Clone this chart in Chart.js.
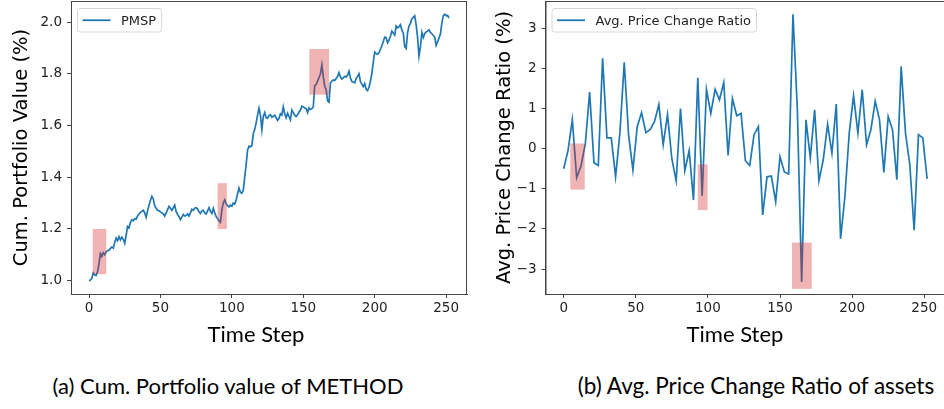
<!DOCTYPE html>
<html lang="en">
<head>
    <meta charset="UTF-8">
    <title>Cum. Portfolio value / Avg. Price Change Ratio</title>
    <script src="https://cdn.jsdelivr.net/npm/chart.js"></script>
    <style>
        body { margin: 0; background: #fff; overflow: hidden; width: 944px; height: 409px; position: relative; }
        canvas { position: absolute; top: 0; }
        .lbl { position: absolute; font-family: Lato, sans-serif; color: #000; white-space: nowrap; transform: translate(-50%, -50%); }
    </style>
</head>
<body>
    <canvas id="chartA" width="472" height="350" style="left:0"></canvas>
    <canvas id="chartB" width="480" height="350" style="left:472px"></canvas>

    <div class="lbl" style="left:256px; top:333px; font-size:22px">Time Step</div>
    <div class="lbl" style="left:735px; top:333px; font-size:22px">Time Step</div>
    <div class="lbl" style="left:228px; top:385px; font-size:22px">(a) Cum. Portfolio value of METHOD</div>
    <div class="lbl" style="left:756px; top:385px; font-size:22.5px">(b) Avg. Price Change Ratio of assets</div>

    <script>
        // cumulative portfolio value, one value per time step (0..252)
        var portfolioValue = [
            1.000, 1.002, 1.010, 1.030, 1.022, 1.020, 1.035, 1.065, 1.105, 1.094,
            1.108, 1.100, 1.112, 1.116, 1.118, 1.125, 1.130, 1.126, 1.148, 1.165,
            1.155, 1.170, 1.158, 1.168, 1.160, 1.145, 1.175, 1.210, 1.205, 1.225,
            1.236, 1.232, 1.240, 1.238, 1.250, 1.258, 1.264, 1.268, 1.272, 1.262,
            1.245, 1.270, 1.292, 1.310, 1.326, 1.316, 1.290, 1.280, 1.272, 1.270,
            1.266, 1.262, 1.258, 1.250, 1.262, 1.275, 1.287, 1.280, 1.272, 1.282,
            1.292, 1.268, 1.256, 1.248, 1.236, 1.246, 1.256, 1.250, 1.252, 1.258,
            1.250, 1.262, 1.276, 1.272, 1.280, 1.282, 1.278, 1.266, 1.260, 1.270,
            1.272, 1.262, 1.258, 1.270, 1.282, 1.268, 1.260, 1.280, 1.262, 1.248,
            1.240, 1.232, 1.226, 1.275, 1.300, 1.312, 1.298, 1.290, 1.285, 1.292,
            1.288, 1.300, 1.296, 1.312, 1.335, 1.358, 1.342, 1.338, 1.350, 1.400,
            1.450, 1.505, 1.520, 1.518, 1.522, 1.568, 1.585, 1.610, 1.640, 1.667,
            1.640, 1.584, 1.635, 1.650, 1.630, 1.628, 1.638, 1.642, 1.632, 1.636,
            1.640, 1.630, 1.620, 1.628, 1.645, 1.640, 1.672, 1.645, 1.630, 1.648,
            1.635, 1.622, 1.660, 1.650, 1.640, 1.635, 1.642, 1.652, 1.660, 1.675,
            1.672, 1.668, 1.665, 1.650, 1.668, 1.662, 1.665, 1.672, 1.755, 1.758,
            1.772, 1.785, 1.800, 1.835, 1.790, 1.752, 1.738, 1.695, 1.690, 1.765,
            1.772, 1.776, 1.774, 1.782, 1.790, 1.805, 1.788, 1.780, 1.784, 1.790,
            1.788, 1.795, 1.810, 1.785, 1.770, 1.768, 1.765, 1.782, 1.790, 1.800,
            1.770, 1.760, 1.750, 1.762, 1.740, 1.735, 1.748, 1.772, 1.800, 1.845,
            1.884, 1.878, 1.876, 1.882, 1.895, 1.908, 1.925, 1.942, 1.940, 1.920,
            1.930, 1.945, 1.965, 1.958, 1.950, 1.985, 1.978, 1.982, 1.990, 1.970,
            1.958, 1.905, 1.898, 1.958, 1.985, 1.995, 2.012, 2.018, 2.024, 1.990,
            1.940, 1.868, 1.905, 1.960, 1.940, 1.955, 1.962, 1.965, 1.970, 1.960,
            1.955, 1.948, 1.942, 1.910, 1.924, 1.938, 1.955, 1.995, 2.025, 2.030,
            2.024, 2.026, 2.015
        ];

        // average price change ratio, sampled every 3 time steps (0..252)
        var priceChange = [
            -0.50, -0.05, 0.72, -0.72, -0.43, 0.12, 1.41, -0.35, -0.42, 2.25,
            0.27, 0.27, -0.70, 0.40, 2.15, 0.35, -0.53, 0.55, 0.90, 0.40,
            0.48, 0.68, 1.10, 0.10, 0.85, -0.25, -0.80, 1.00, -0.55, -0.05,
            -1.28, 1.77, -1.17, 1.48, 0.88, 1.48, 1.22, 1.65, -0.17, 1.25,
            0.82, 0.88, -0.30, -0.42, 0.35, 0.55, -1.65, -0.70, -0.68, -1.32,
            -0.20, -0.58, -0.63, 3.35, 1.00, -3.32, 0.72, -0.23, 0.97, -0.80,
            -0.27, 0.61, -0.11, 1.11, -2.24, -1.19, 0.39, 1.32, 0.39, 1.47,
            0.10, 0.47, 1.18, 0.72, -0.59, 0.80, 0.47, -0.77, 2.05, 0.39,
            -0.40, -2.03, 0.35, 0.27, -0.75
        ];

        // highlighted windows: [x from, x to, y from, y to]
        var highlightA = [[2.6, 12.1, 1.025, 1.2], [90, 96.5, 1.2, 1.377], [154.2, 168, 1.719, 1.896]];
        var highlightB = [[4.6, 14.6, -1.02, 0.13], [93, 99.8, -1.53, -0.39], [158.3, 172, -3.49, -2.34]];

        var xTicks = [0, 50, 100, 150, 200, 250];

        var stepsA = portfolioValue.map(function (v, i) { return { x: i, y: v }; });
        var stepsB = priceChange.map(function (v, i) { return { x: i * 3, y: v }; });

        var spine = '#444';
        var tickFont = { family: 'DejaVu Sans', size: 13.5 };

        // frame, highlight boxes and a matplotlib-like legend
        var decoPlugin = {
            id: 'deco',
            afterDatasetsDraw: function (chart) {
                var ctx = chart.ctx, a = chart.chartArea;
                var xs = chart.scales.x, ys = chart.scales.y;
                ctx.save();
                ctx.beginPath();
                ctx.rect(a.left, a.top, a.right - a.left, a.bottom - a.top);
                ctx.clip();
                ctx.fillStyle = 'rgba(214,39,40,0.35)';
                chart.options.plugins.deco.boxes.forEach(function (b) {
                    var x0 = xs.getPixelForValue(b[0]), x1 = xs.getPixelForValue(b[1]);
                    var y0 = ys.getPixelForValue(b[3]), y1 = ys.getPixelForValue(b[2]);
                    ctx.fillRect(x0, y0, x1 - x0, y1 - y0);
                });
                ctx.restore();

                ctx.save();
                ctx.strokeStyle = spine;
                ctx.lineWidth = 1;
                ctx.strokeRect(a.left + 0.5, a.top + 0.5, a.right - a.left - 1, a.bottom - a.top);

                // legend
                var ds = chart.data.datasets[0];
                ctx.font = '13px "DejaVu Sans"';
                var tw = ctx.measureText(ds.label).width;
                var bx = a.left + 6.5, by = a.top + 7.5, bw = 43.5 + tw + 5.5, bh = 23.5;
                ctx.beginPath();
                ctx.roundRect(bx, by, bw, bh, 3);
                ctx.fillStyle = 'rgba(255,255,255,0.8)';
                ctx.fill();
                ctx.strokeStyle = '#d6d6d6';
                ctx.stroke();
                ctx.beginPath();
                ctx.moveTo(bx + 5, by + bh / 2);
                ctx.lineTo(bx + 33, by + bh / 2);
                ctx.strokeStyle = ds.borderColor;
                ctx.lineWidth = 1.8;
                ctx.stroke();
                ctx.fillStyle = '#222';
                ctx.textBaseline = 'middle';
                ctx.fillText(ds.label, bx + 43.5, by + bh / 2 + 1);
                ctx.restore();
            }
        };

        function makeConfig(label, points, boxes, yMin, yMax, yStep, yTitle, yWidth, titlePad, padRight, fmt) {
            return {
                type: 'line',
                data: {
                    datasets: [{
                        label: label,
                        data: points,
                        borderColor: '#1f77b4',
                        borderWidth: 1.7,
                        pointRadius: 0,
                        tension: 0,
                        fill: false
                    }]
                },
                options: {
                    responsive: false,
                    animation: false,
                    devicePixelRatio: 1,
                    layout: { padding: { left: 0, right: padRight, top: 1, bottom: 0 } },
                    plugins: {
                        legend: { display: false },
                        tooltip: { enabled: false },
                        deco: { boxes: boxes }
                    },
                    scales: {
                        x: {
                            type: 'linear',
                            min: -12.6,
                            max: 264.6,
                            afterBuildTicks: function (s) { s.ticks = xTicks.map(function (v) { return { value: v }; }); },
                            afterFit: function (s) { s.height = 56; s.paddingLeft = 0; s.paddingRight = 0; },
                            grid: { drawOnChartArea: false, drawTicks: true, tickLength: 4, color: spine },
                            border: { display: true, color: spine },
                            ticks: { font: tickFont, color: '#222', padding: 2, maxRotation: 0 }
                        },
                        y: {
                            min: yMin,
                            max: yMax,
                            afterFit: function (s) { s.width = yWidth; s.paddingTop = 0; s.paddingBottom = 0; },
                            grid: { drawOnChartArea: false, drawTicks: true, tickLength: 4, color: spine },
                            border: { display: true, color: spine },
                            ticks: { font: tickFont, color: '#222', padding: 5, stepSize: yStep, includeBounds: false, callback: fmt },
                            title: {
                                display: true,
                                text: yTitle,
                                color: '#000',
                                font: { family: 'DejaVu Sans', size: 19.5 },
                                padding: { top: 10, bottom: 0 }
                            }
                        }
                    }
                },
                plugins: [decoPlugin]
            };
        }

        var cfgA = makeConfig(
            'PMSP', stepsA, highlightA, 0.9485, 2.0815, 0.2,
            'Cum. Portfolio Value (%)', 71, 10, 5,
            function (v) { return v.toFixed(1); }
        );
        cfgA.options.scales.y.title.padding.top = 10;
        new Chart(document.getElementById('chartA'), cfgA);

        var cfgB = makeConfig(
            'Avg. Price Change Ratio', stepsB, highlightB, -3.62, 3.68, 1,
            'Avg. Price Change Ratio (%)', 73.5, 21, 6.7,
            function (v) { return v < 0 ? '\u2212' + Math.abs(v) : String(v); }
        );
        cfgB.options.scales.y.title.padding.top = 21;
        new Chart(document.getElementById('chartB'), cfgB);
    </script>
</body>
</html>
